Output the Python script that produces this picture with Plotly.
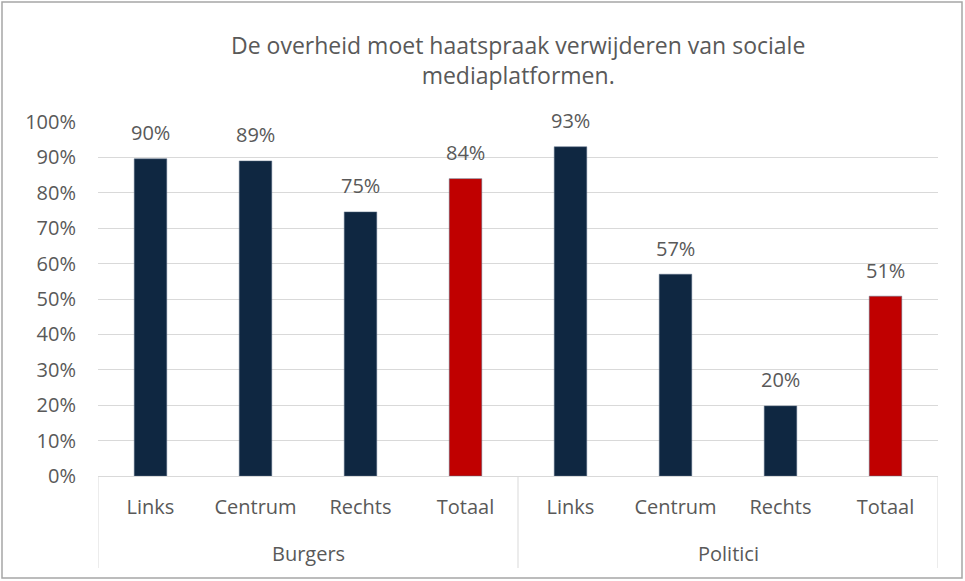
import plotly.graph_objects as go

groups = ["Burgers", "Politici"]
categories = ["Links", "Centrum", "Rechts", "Totaal", "Links", "Centrum", "Rechts", "Totaal"]
values = [0.896, 0.89, 0.746, 0.84, 0.93, 0.57, 0.198, 0.508]
colors = ["#0f2741", "#0f2741", "#0f2741", "#c00000", "#0f2741", "#0f2741", "#0f2741", "#c00000"]
title_text = "De overheid moet haatspraak verwijderen van sociale<br>mediaplatformen."
yticks = [i / 10 for i in range(11)]

font_family = "Open Sans"
grey = "#595959"
line_grey = "#d9d9d9"
fs = 20

xpos = list(range(len(categories)))
n_per_group = len(categories) // len(groups)

fig = go.Figure(go.Bar(
    x=xpos,
    y=values,
    marker=dict(color=colors, line=dict(color="#5a6f86", width=0.5)),
    hoverinfo="y",
))

annotations = []
for xi, v in zip(xpos, values):
    annotations.append(dict(x=xi, y=v, xref="x", yref="y", text=f"{round(v * 100)}%",
                            showarrow=False, yanchor="middle", yshift=26,
                            font=dict(family=font_family, size=fs, color=grey)))
for gi, g in enumerate(groups):
    center = gi * n_per_group + (n_per_group - 1) / 2
    annotations.append(dict(x=center, y=-77 / 354, xref="x", yref="paper", text=g,
                            showarrow=False, yanchor="middle",
                            font=dict(family=font_family, size=fs, color=grey)))
annotations.append(dict(x=0.5, y=1 + 62 / 354, xref="paper", yref="paper", text=title_text,
                        showarrow=False, yanchor="middle", xanchor="center",
                        font=dict(family=font_family, size=23, color=grey)))

shapes = []
for b in range(len(groups) + 1):
    xb = b * n_per_group - 0.5
    shapes.append(dict(type="line", xref="x", yref="paper", x0=xb, x1=xb, y0=0, y1=-92 / 354,
                       line=dict(color=line_grey, width=1)))
shapes.append(dict(type="rect", xref="paper", yref="paper", x0=-96 / 840, x1=1 + 24 / 840,
                   y0=-102 / 354, y1=1 + 120 / 354, line=dict(color="#a6a6a6", width=1.5),
                   fillcolor="rgba(0,0,0,0)", layer="below"))

fig.update_layout(
    width=965, height=581,
    margin=dict(l=98, r=27, t=122, b=105, autoexpand=False),
    paper_bgcolor="white", plot_bgcolor="white",
    bargap=0.69,
    showlegend=False,
    font=dict(family=font_family, size=fs, color=grey),
    xaxis=dict(range=[-0.5, len(categories) - 0.5], tickvals=xpos, ticktext=categories,
               showgrid=False, showline=True, linecolor=line_grey, linewidth=1, zeroline=False,
               ticks="", ticklabelstandoff=13, automargin=False,
               tickfont=dict(family=font_family, size=fs, color=grey)),
    yaxis=dict(range=[0, 1], tickvals=yticks, tickformat=".0%", showgrid=True,
               gridcolor=line_grey, gridwidth=1, zeroline=False, showline=False,
               automargin=False, ticks="", ticklabelstandoff=21,
               tickfont=dict(family=font_family, size=fs, color=grey)),
    annotations=annotations,
    shapes=shapes,
)

fig.write_html("out.html", config={"displayModeBar": False})

with open("out.html", "r", encoding="utf-8") as f:
    html = f.read()
html = html.replace("<head>", "<head><style>html,body{margin:0;padding:0;overflow:hidden;}</style>", 1)
with open("out.html", "w", encoding="utf-8") as f:
    f.write(html)
